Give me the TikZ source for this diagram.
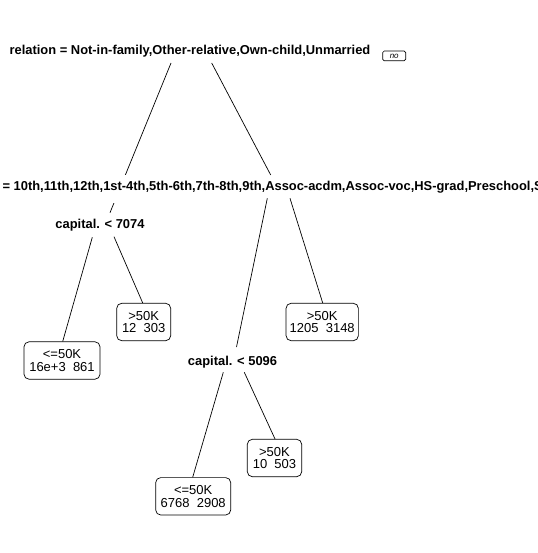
\documentclass[tikz,border=0pt]{standalone}
\usepackage{fontspec}
\setmainfont{Liberation Sans}
\begin{document}
\begin{tikzpicture}[x=1pt,y=-1pt,
  split/.style={font=\bfseries\fontsize{12.9}{14}\selectfont, inner sep=0pt, anchor=base},
  leaf/.style={draw, rounded corners=5pt, align=center, inner sep=0pt,
    font=\fontsize{13}{12.8}\selectfont, line width=0.7pt, minimum height=37.4pt},
  conn/.style={line width=0.7pt},
  yesno/.style={draw, rounded corners=1.5pt, inner sep=0pt, line width=0.7pt,
    minimum width=23pt, minimum height=9.7pt, font=\itshape\fontsize{8}{8}\selectfont}]
\useasboundingbox[fill=white] (0,0) rectangle (537,553);
\clip (0,0) rectangle (537,553);

% connector end points
\coordinate (rootL) at (171,63);
\coordinate (rootR) at (211.7,63);
\coordinate (capAtop) at (110,212.7);
\coordinate (eduTop) at (270.7,175);
\coordinate (eduL) at (267.3,198.3);
\coordinate (eduR) at (290,198.3);
\coordinate (capBtop) at (236.5,347);
\coordinate (capAL) at (92.3,237.3);
\coordinate (capAR) at (114,236.7);
\coordinate (capBL) at (223.3,372.3);
\coordinate (capBR) at (244.3,372.3);

% leaves
\node[leaf, minimum width=76pt] (L1) at (62,360.5) {<=50K\\16e+3\ \ 861};
\node[leaf, minimum width=54pt] (L2) at (143.7,322) {>50K\\12\ \ 303};
\node[leaf, minimum width=72.3pt] (L3) at (322.2,322) {>50K\\1205\ \ 3148};
\node[leaf, minimum width=54.4pt] (L4) at (274.5,458) {>50K\\10\ \ 503};
\node[leaf, minimum width=75pt] (L5) at (193.2,496.3) {<=50K\\6768\ \ 2908};

% split labels
\node[split] (root) at (190,55) {relation = Not-in-family,Other-relative,Own-child,Unmarried};
\node[yesno] (no) at (394.2,55.9) {no};
\node[split] (capA) at (100,228.5) {capital. < 7074};
\node[split] (capB) at (232.5,365) {capital. < 5096};

% connector hidden behind the education label
\draw[conn] (rootL) -- (capAtop);

\node[split, fill=white, text height=9pt, text depth=5pt, inner ysep=7pt, inner xsep=3pt] (edu) at (278,191)
  {education = 10th,11th,12th,1st-4th,5th-6th,7th-8th,9th,Assoc-acdm,Assoc-voc,HS-grad,Preschool,Some-college};

\draw[conn] (rootR) -- (eduTop);
\draw[conn] (eduL) -- (capBtop);
\draw[conn] (eduR) -- (L3.north -| 322.7,0);
\draw[conn] (capAL) -- (L1.north -| 62.7,0);
\draw[conn] (capAR) -- (L2.north -| 142.7,0);
\draw[conn] (capBL) -- (L5.north -| 192.7,0);
\draw[conn] (capBR) -- (L4.north -| 275,0);
\end{tikzpicture}
\end{document}
